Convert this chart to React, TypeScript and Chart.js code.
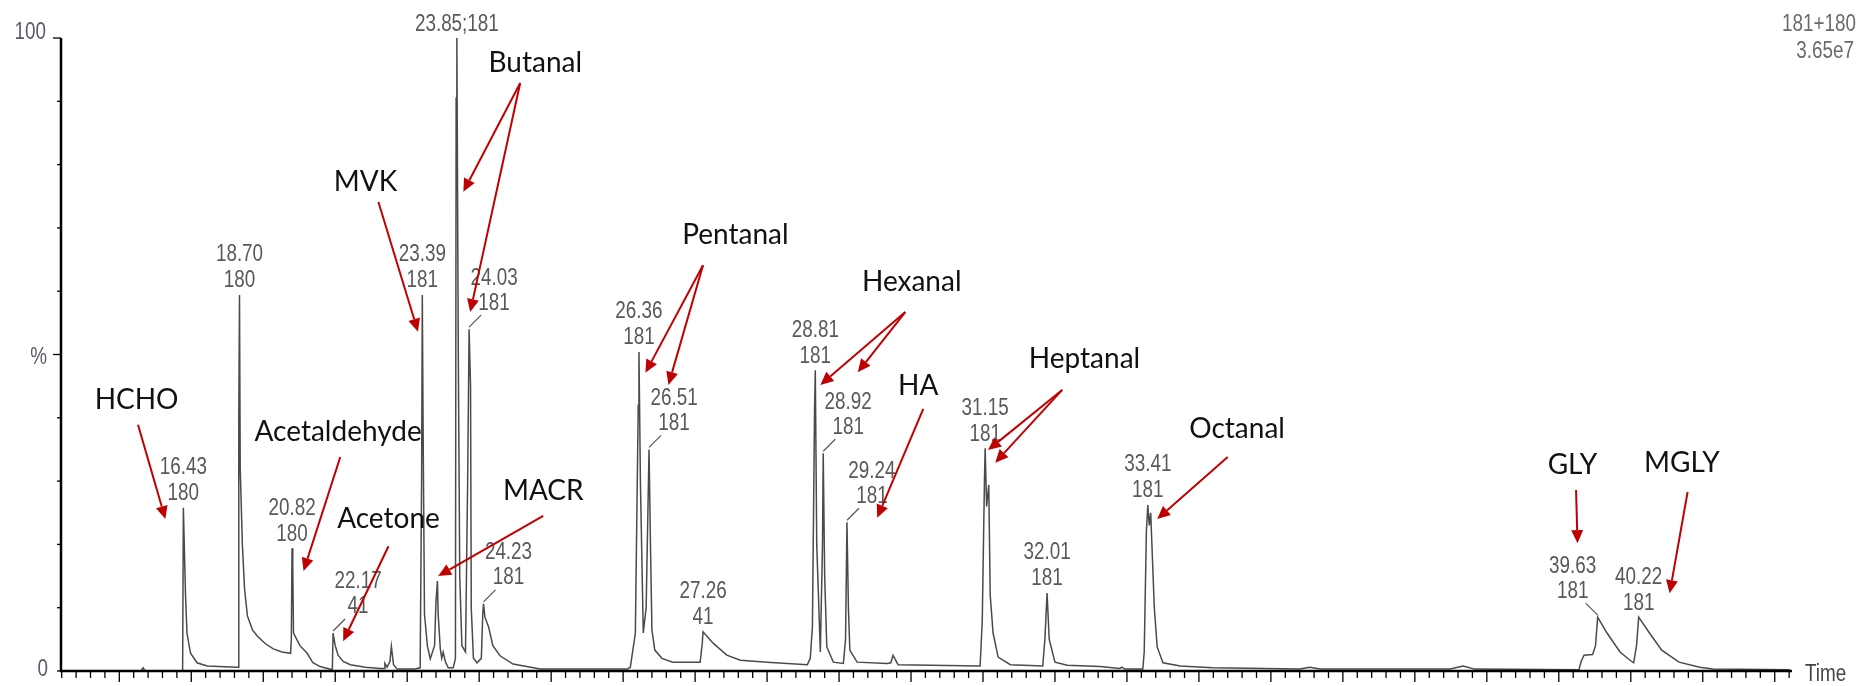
import React, { useEffect, useRef } from 'react';
import { Chart, registerables } from 'chart.js';

Chart.register(...registerables);

// ---- chromatogram trace (display time axis, % of base peak) ----
const traceTime = [
  18.19, 19.30, 19.33, 19.36, 19.88, 19.89, 19.92, 19.94, 19.99, 20.08, 20.22, 20.63,
  20.65, 20.66, 20.67, 20.68, 20.71, 20.74, 20.78, 20.85, 20.92, 21.03, 21.14, 21.26, 21.38,
  21.39, 21.40, 21.41, 21.42, 21.51, 21.61, 21.69, 21.79, 21.96,
  21.97, 22.00, 22.04, 22.11, 22.21, 22.42, 22.63, 22.68, 22.69, 22.72, 22.76, 22.78, 22.81, 22.86,
  23.11, 23.18, 23.20, 23.21, 23.22, 23.24, 23.28, 23.32, 23.38, 23.40, 23.42, 23.43, 23.46,
  23.48, 23.50, 23.53, 23.57, 23.64, 23.67, 23.68, 23.69, 23.71, 23.73, 23.76, 23.81, 23.84,
  23.86, 23.88, 23.89, 23.92, 23.97, 24.03, 24.05, 24.06, 24.08, 24.13, 24.19, 24.29, 24.47,
  24.85, 26.06, 26.10, 26.17, 26.21, 26.22, 26.24, 26.28, 26.32, 26.36, 26.38, 26.40, 26.44,
  26.54, 26.69, 27.07, 27.10, 27.11, 27.25, 27.44, 27.63, 28.00, 28.56, 28.60, 28.63, 28.66,
  28.67, 28.69, 28.74, 28.77, 28.78, 28.80, 28.83, 28.92, 29.06, 29.09, 29.11, 29.13, 29.15,
  29.25, 29.67, 29.72, 29.75, 29.82, 30.96, 30.99, 31.02, 31.03, 31.05, 31.08, 31.10, 31.14,
  31.21, 31.38, 31.83, 31.86, 31.89, 31.92, 32.00, 32.17, 32.63, 32.90, 32.93, 32.97, 33.22,
  33.24, 33.27, 33.29, 33.31, 33.33, 33.38, 33.42, 33.50, 33.74, 34.19, 35.40, 35.54, 35.68,
  37.49, 37.67, 37.83, 39.28, 39.31, 39.35, 39.47, 39.51, 39.54, 39.67, 39.85, 39.99, 40.04,
  40.08, 40.11, 40.26, 40.43, 40.67, 40.96, 41.14, 42.21,
];
const traceIntensity = [
  0, 0, 0.5, 0, 0, 25.8, 12, 6, 2.8, 1.3, 0.8, 0.6,
  0.6, 40, 59.4, 32, 20, 13, 8.7, 6.5, 5.5, 4.3, 3.5, 3.0, 2.8,
  5, 19.4, 16.6, 6, 4, 2.8, 1.3, 0.7, 0.2,
  6.0, 4.0, 2.5, 1.5, 1.0, 0.6, 0.4, 0.4, 1.2, 0.6, 1.5, 3.9, 1.0, 0.3,
  0.3, 0.5, 30, 59.4, 40, 9, 4, 1.9, 4, 11, 14.2, 9, 3.5,
  2.0, 3.0, 1.5, 0.5, 0.5, 2, 90.5, 100, 50, 15, 4, 3, 30,
  54, 45, 10, 2, 1.3, 2, 9, 10.6, 8.5, 7, 4, 2.4, 1.1,
  0.3, 0.3, 0.6, 6, 42, 50.4, 30, 6, 10, 35, 20, 6.5, 3.3,
  2, 1.4, 1.4, 4.4, 6.2, 4.4, 2.5, 1.7, 1.4, 1.0, 2, 7, 41.5,
  47.5, 20, 3, 20, 34.4, 15, 3.8, 1.4, 1.2, 5, 23.5, 10, 3.3,
  1.4, 1.2, 1.3, 2.5, 1.0, 0.8, 8, 30, 35.2, 26, 29.4, 12, 6,
  2.2, 1.0, 0.8, 5, 12.3, 5, 1.4, 0.9, 0.7, 0.4, 0.6, 0.3, 0.3,
  3, 22, 26.2, 23, 25, 10, 3.8, 1.3, 0.8, 0.5, 0.3, 0.6, 0.3,
  0.3, 0.8, 0.3, 0.2, 1.5, 2.5, 2.6, 4, 8.5, 6, 3, 1.7, 1.3,
  4, 8.5, 6, 3.3, 1.4, 0.6, 0.3, 0.2,
];

// ---- peak labels ----
const peakRt = ['16.43', '18.70', '20.82', '22.17', '23.39', '24.03', '24.23', '26.36', '26.51',
  '27.26', '28.81', '28.92', '29.24', '31.15', '32.01', '33.41', '39.63', '40.22'];
const peakMass = ['180', '180', '180', '41', '181', '181', '181', '181', '181',
  '41', '181', '181', '181', '181', '181', '181', '181', '181'];
const peakAt = [19.89, 20.67, 21.40, 21.97, 23.21, 23.86, 24.06, 26.22, 26.36,
  27.11, 28.67, 28.78, 29.11, 31.03, 31.89, 33.29, 39.54, 40.11];
const peakTop = [25.8, 59.4, 19.4, 6.0, 59.4, 54, 10.6, 50.4, 35,
  6.2, 47.5, 34.4, 23.5, 35.2, 12.3, 26.2, 8.5, 8.5];
const peakLeader = [0, 0, 0, 1, 0, 1, 1, 0, 1, 0, 0, 1, 1, 0, 0, 0, -1, 0];
const basePeakLabel = '23.85;181';
const basePeakAt = 23.69;
const basePeakTop = 100;

// ---- compound annotations ----
const compoundNames = ['HCHO', 'Acetaldehyde', 'Acetone', 'MVK', 'Butanal', 'MACR', 'Pentanal',
  'Hexanal', 'HA', 'Heptanal', 'Octanal', 'GLY', 'MGLY'];
const compoundAt = [19.24, 22.04, 22.74, 22.42, 24.78, 24.89, 27.56, 30.01, 30.10, 32.41, 34.53, 39.19, 40.71];
const compoundLevel = [42.8, 37.8, 24.0, 77.3, 96.1, 28.4, 68.9, 61.5, 45.0, 49.3, 38.2, 32.5, 32.9];
const arrowStartAt = [19.26, 22.07, 22.74, 22.60, 24.57, 24.89, 27.11, 29.92, 30.17, 32.10, 34.40, 39.24, 40.79];
const arrowStartLevel = [38.9, 33.8, 19.7, 74.1, 92.9, 24.5, 64.1, 56.7, 41.4, 44.4, 33.8, 28.6, 28.3];
const arrowOwner = [0, 1, 2, 3, 4, 4, 5, 6, 6, 7, 7, 8, 9, 9, 10, 11, 12];
const arrowTipAt = [19.64, 21.56, 22.11, 23.15, 23.78, 23.875, 23.43, 26.31, 26.63, 28.74, 29.26,
  29.53, 31.07, 31.17, 33.42, 39.26, 40.54];
const arrowTipLevel = [24.0, 15.8, 4.7, 53.6, 75.7, 56.7, 15.0, 47.1, 45.2, 45.2, 47.2,
  24.2, 34.9, 32.9, 24.0, 20.2, 12.3];

const yTickValues = [0, 10, 20, 30, 40, 50, 60, 70, 80, 90, 100];
const yLabels = [
  { v: 100, t: '100' },
  { v: 50, t: '%' },
  { v: 0, t: '0' },
];
const headerLines = ['181+180', '3.65e7'];
const xTitle = 'Time';

const GRAY_TEXT = '#585858';
const RED = '#c00000';
const NARROW = 0.82;

function narrowText(ctx: CanvasRenderingContext2D, text: string, x: number, y: number, align: 'center' | 'left' | 'right') {
  ctx.save();
  ctx.translate(x, y);
  ctx.scale(NARROW, 1);
  ctx.textAlign = align;
  ctx.fillText(text, 0, 0);
  ctx.restore();
}

function drawArrow(ctx: CanvasRenderingContext2D, x1: number, y1: number, x2: number, y2: number) {
  const ang = Math.atan2(y2 - y1, x2 - x1);
  const L = 13;
  const W = 6;
  const bx = x2 - L * Math.cos(ang);
  const by = y2 - L * Math.sin(ang);
  ctx.beginPath();
  ctx.moveTo(x1, y1);
  ctx.lineTo(bx, by);
  ctx.stroke();
  ctx.beginPath();
  ctx.moveTo(x2, y2);
  ctx.lineTo(bx + W * Math.sin(ang), by - W * Math.cos(ang));
  ctx.lineTo(bx - W * Math.sin(ang), by + W * Math.cos(ang));
  ctx.closePath();
  ctx.fill();
}

const overlayPlugin = {
  id: 'overlay',
  afterDatasetsDraw(chart: any) {
    const ctx: CanvasRenderingContext2D = chart.ctx;
    const xs = chart.scales.x;
    const ys = chart.scales.y;
    const X = (v: number) => xs.getPixelForValue(v);
    const Y = (v: number) => ys.getPixelForValue(v);
    const left = X(xs.min);
    const right = X(xs.max);
    const top = Y(100);
    const bottom = Y(0);

    ctx.save();
    // axes
    ctx.strokeStyle = '#000';
    ctx.lineWidth = 2.5;
    ctx.beginPath();
    ctx.moveTo(left, top);
    ctx.lineTo(left, bottom);
    ctx.lineTo(right, bottom);
    ctx.stroke();

    // y ticks
    ctx.lineWidth = 1.3;
    yTickValues.forEach((v) => {
      const len = v === 100 || v === 50 ? 8 : 4;
      const py = Y(v);
      ctx.beginPath();
      ctx.moveTo(left - len, py);
      ctx.lineTo(left, py);
      ctx.stroke();
    });
    // x ticks
    for (let k = Math.ceil(xs.min * 5); k <= Math.floor(xs.max * 5); k++) {
      const v = k / 5;
      const major = k % 5 === 0;
      const px = X(v);
      ctx.beginPath();
      ctx.moveTo(px, bottom);
      ctx.lineTo(px, bottom + (major ? 11 : 7));
      ctx.stroke();
    }

    // y labels
    ctx.fillStyle = '#5a5a6a';
    ctx.font = '23px "Liberation Sans", Arial, sans-serif';
    ctx.textBaseline = 'middle';
    yLabels.forEach((l) => {
      const py = Y(l.v);
      if (l.t === '100') narrowText(ctx, l.t, left - 15, py - 5, 'right');
      else if (l.t === '%') narrowText(ctx, l.t, left - 14, py + 3, 'right');
      else narrowText(ctx, l.t, left - 13, py - 1, 'right');
    });

    // header
    ctx.fillStyle = '#6a6a6a';
    narrowText(ctx, headerLines[0], chart.width - 2, 25, 'right');
    narrowText(ctx, headerLines[1], chart.width - 4, 52, 'right');

    // x title
    ctx.fillStyle = '#444';
    narrowText(ctx, xTitle, right + 13, bottom + 4, 'left');

    // peak labels
    ctx.fillStyle = GRAY_TEXT;
    ctx.strokeStyle = '#555';
    ctx.lineWidth = 1.2;
    peakRt.forEach((rt, i) => {
      const px = X(peakAt[i]);
      const py = Y(peakTop[i]);
      const dir = peakLeader[i];
      if (dir === 0) {
        narrowText(ctx, rt, px, py - 40, 'center');
        narrowText(ctx, peakMass[i], px, py - 14, 'center');
      } else {
        ctx.beginPath();
        ctx.moveTo(px, py - 2);
        ctx.lineTo(px + dir * 12, py - 14);
        ctx.stroke();
        narrowText(ctx, rt, px + dir * 25, py - 51, 'center');
        narrowText(ctx, peakMass[i], px + dir * 25, py - 26, 'center');
      }
    });
    narrowText(ctx, basePeakLabel, X(basePeakAt), Y(basePeakTop) - 13, 'center');

    // compound names
    ctx.fillStyle = '#111';
    ctx.font = '28px Lato, "Open Sans", sans-serif';
    ctx.textAlign = 'center';
    ctx.textBaseline = 'middle';
    compoundNames.forEach((name, i) => {
      ctx.fillText(name, X(compoundAt[i]), Y(compoundLevel[i]));
    });

    // arrows
    ctx.strokeStyle = RED;
    ctx.fillStyle = RED;
    ctx.lineWidth = 2;
    arrowOwner.forEach((c, j) => {
      drawArrow(ctx, X(arrowStartAt[c]), Y(arrowStartLevel[c]), X(arrowTipAt[j]), Y(arrowTipLevel[j]));
    });
    ctx.restore();
  },
};

export default function App() {
  const canvasRef = useRef<HTMLCanvasElement | null>(null);

  useEffect(() => {
    const canvas = canvasRef.current;
    if (!canvas) return;
    const chart = new Chart(canvas, {
      type: 'line',
      data: {
        datasets: [
          {
            data: traceTime.map((t, i) => ({ x: t, y: traceIntensity[i] })),
            borderColor: '#4a4a4a',
            borderWidth: 1.5,
            pointRadius: 0,
            tension: 0,
            fill: false,
            clip: false as any,
          },
        ],
      },
      options: {
        responsive: false,
        animation: false,
        devicePixelRatio: 1,
        layout: { padding: { left: 61, top: 38, right: 66, bottom: 15 } },
        plugins: { legend: { display: false }, tooltip: { enabled: false } },
        scales: {
          x: { type: 'linear', min: 18.19, max: 42.24, display: false },
          y: { type: 'linear', min: 0, max: 100, display: false },
        },
      },
      plugins: [overlayPlugin],
    });
    return () => chart.destroy();
  }, []);

  return (
    <div style={{ position: 'fixed', left: 0, top: 0, width: 1858, height: 686, background: '#fff' }}>
      <canvas ref={canvasRef} width={1858} height={686} style={{ display: 'block' }} />
    </div>
  );
}
